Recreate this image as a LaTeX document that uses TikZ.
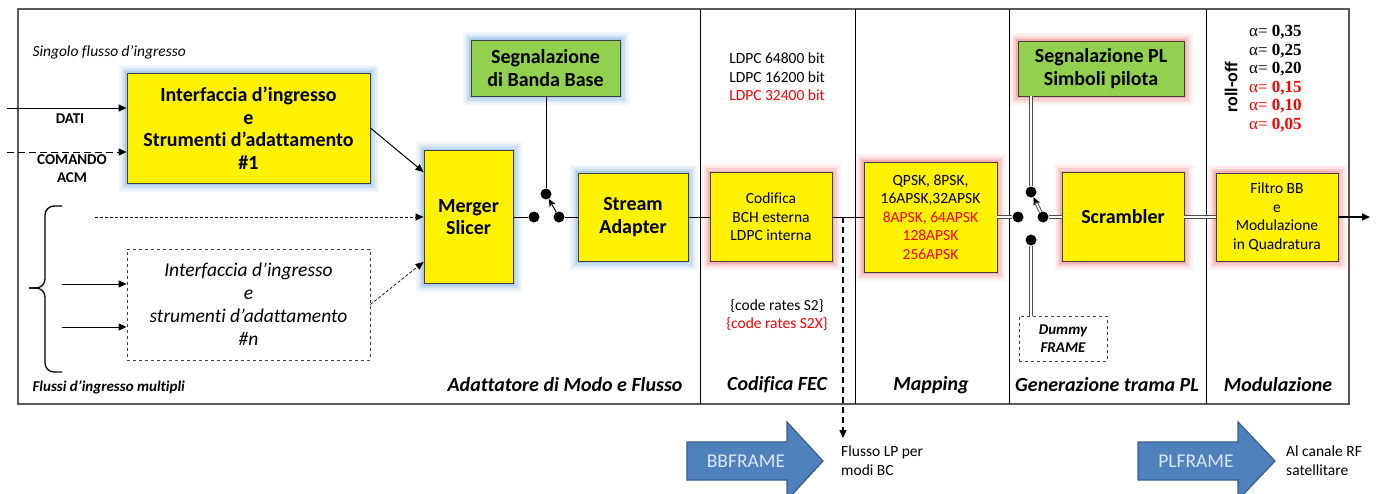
\documentclass[tikz,border=0pt]{standalone}
\usepackage{fontspec}
\setmainfont{Carlito}[Ligatures={TeX,NoCommon}]
\newfontfamily\alphafont{Liberation Serif}
\usetikzlibrary{arrows.meta, positioning, calc}

\definecolor{sigreen}{HTML}{92D050}
\definecolor{glowblue}{HTML}{9DC3E6}
\definecolor{glowred}{HTML}{F29B9B}
\definecolor{fatblue}{HTML}{4F81BD}
\definecolor{fatline}{HTML}{385D8A}
\definecolor{fattext}{HTML}{DCE6F2}
\definecolor{framegray}{HTML}{5A5A5A}

\begin{document}
\begin{tikzpicture}[x=1pt, y=-1pt,
    blk/.style={rectangle, draw=black!75, line width=0.9pt, fill=yellow, align=center, inner sep=1pt},
    sig/.style={blk, fill=sigreen},
    big/.style={font=\fontsize{20}{22.5}\selectfont\bfseries},
    small/.style={font=\fontsize{15.5}{18.6}\selectfont},
    glowb/.style={preaction={draw=glowblue!15, line width=17pt},
      preaction={draw=glowblue!30, line width=13pt}, preaction={draw=glowblue!55, line width=9pt},
      preaction={draw=glowblue!85, line width=4pt}},
    glowr/.style={preaction={draw=glowred!12, line width=17pt},
      preaction={draw=glowred!25, line width=13pt}, preaction={draw=glowred!50, line width=9pt},
      preaction={draw=glowred!80, line width=4pt}},
    dashbox/.style={rectangle, draw=black!75, dashed, line width=0.8pt, align=center, inner sep=1pt},
    sect/.style={font=\fontsize{20}{22}\selectfont\bfseries\itshape},
    lbl/.style={font=\fontsize{15}{18}\selectfont\bfseries, align=center},
    note/.style={font=\fontsize{15.5}{19}\selectfont, align=left, inner sep=0pt},
    arr/.style={-{Triangle[length=8pt, width=7pt]}, line width=1pt},
    sw/.style={circle, fill=black, inner sep=0pt, minimum size=11pt},
    dbl/.style={draw=black!70, double=white, double distance=1.5pt, line width=1pt},
    fat/.style={fill=fatblue, draw=fatline, line width=1.2pt}
  ]
    \useasboundingbox (0,0) rectangle (1377,493);
    \fill[white] (0,0) rectangle (1377,493);

    % frame and sections
    \draw[framegray, line width=1.5pt] (18,9) rectangle (1349,404);
    \foreach \x in {700,855,1009,1206}
      \draw[line width=0.8pt] (\x,9) -- (\x,404);

    \node[sect, anchor=east] (lmode) at (686,385) {Adattatore di Modo e Flusso};
    \node[sect] (lfec) at (777,385) {Codifica FEC};
    \node[sect] (lmap) at (931,385) {Mapping};
    \node[sect] (lpl) at (1107,385) {Generazione trama PL};
    \node[sect] (lmod) at (1278,385) {Modulazione};

    % input side
    \node[font=\fontsize{15.5}{18}\selectfont\itshape, anchor=west] (single) at (29,52) {Singolo flusso d’ingresso};
    \node[font=\fontsize{15}{18}\selectfont\bfseries\itshape, anchor=west] (multi) at (29,387) {Flussi d’ingresso multipli};

    \node[blk, glowb, big, minimum width=243pt, minimum height=110pt] (if1) at (248.5,128)
      {Interfaccia d’ingresso\\e\\Strumenti d’adattamento\\\#1};
    \node[dashbox, font=\fontsize{19.5}{23}\selectfont\itshape, minimum width=243pt, minimum height=111pt] (ifn) at (248.5,304.5)
      {Interfaccia d’ingresso\\e\\strumenti d’adattamento\\\#n};
    \node[blk, glowb, big, minimum width=89pt, minimum height=133pt] (merger) at (468.5,217) {Merger\\Slicer};

    \coordinate (dati) at (7,108);
    \coordinate (acm) at (7,152);
    \draw[arr] (dati) -- (dati -| if1.west);
    \draw[arr, dash pattern=on 7pt off 4pt] (acm) -- (acm -| if1.west);
    \node[lbl] (ldati) at (70,119) {DATI};
    \node[lbl] (lacm) at (72,169) {COMANDO\\ACM};

    % curly brace of the multiple streams
    \draw[line width=1.3pt, rounded corners=9pt] (62,206) -- (45,206) -- (45,288) -- (29,288);
    \draw[line width=1.3pt, rounded corners=9pt] (62,372) -- (45,372) -- (45,288) -- (29,288);
    \coordinate (in1) at (62,284);
    \coordinate (in2) at (62,327);
    \draw[arr] (in1) -- (in1 -| ifn.west);
    \draw[arr] (in2) -- (in2 -| ifn.west);

    \coordinate (bypass) at (95,217);
    \draw[arr, line width=0.7pt, dash pattern=on 3pt off 2pt] (bypass) -- (merger.west);
    \draw[arr] (if1.east) -- (merger.135);
    \draw[arr, line width=0.7pt, dash pattern=on 3pt off 2pt] (ifn.east) -- (merger.225);

    % baseband switch
    \node[sig, glowb, big, minimum width=149pt, minimum height=56pt] (sigbb) at (545.5,68) {Segnalazione\\di Banda Base};
    \node[sw] (sa) at (534,217) {};
    \node[sw] (sb) at (559,217) {};
    \node[sw] (sc) at (546,194) {};
    \node[blk, glowb, big, minimum width=110pt, minimum height=88pt] (stream) at (633,217) {Stream\\Adapter};

    \draw[line width=1pt] (merger) -- (sa);
    \draw[line width=1pt] (sigbb.south -| sc) -- (sc);
    \draw[line width=1pt, -{Stealth[length=8pt, width=7pt]}] (sb) -- (sc);
    \draw[line width=1pt] (sb) -- (stream);

    % FEC and mapping
    \node[small, align=center] (ldpc) at (777,77)
      {LDPC 64800 bit\\LDPC 16200 bit\\\textcolor{red}{LDPC 32400 bit}};
    \node[blk, glowr, small, minimum width=122pt, minimum height=89pt] (fec) at (771,217)
      {Codifica\\BCH esterna\\LDPC interna};
    \node[small, align=center] (rates) at (777,315)
      {\{code rates S2\}\\\textcolor{red}{\{code rates S2X\}}};
    \node[blk, glowr, small, minimum width=133pt, minimum height=110pt] (map) at (930.5,217)
      {QPSK, 8PSK,\\16APSK,32APSK\\\textcolor{red}{8APSK, 64APSK}\\\textcolor{red}{128APSK}\\\textcolor{red}{256APSK}};

    \draw[line width=1pt] (stream) -- (fec);
    \draw[line width=1pt] (fec) -- (map);
    \coordinate (tap) at (843,217);
    \coordinate (lpout) at (843,438);
    \draw[arr, line width=1.5pt, dash pattern=on 6pt off 4pt] (tap) -- (lpout);
    \node[note, anchor=west] (lpnote) at (841,461) {Flusso LP per\\modi BC};

    % PL framing
    \node[sig, glowr, big, minimum width=166pt, minimum height=55pt] (sigpl) at (1101,68.5) {Segnalazione PL\\Simboli pilota};
    \node[sw] (sd) at (1018,217) {};
    \node[sw] (se) at (1043,217) {};
    \node[sw] (sf) at (1031,192) {};
    \node[sw] (sg) at (1031,240) {};
    \node[blk, glowr, big, minimum width=122pt, minimum height=89pt] (scr) at (1123,217) {Scrambler};
    \node[dashbox, font=\fontsize{15}{18}\selectfont\bfseries\itshape, minimum width=88pt, minimum height=45pt] (dummy) at (1063,338.5)
      {Dummy\\FRAME};

    \draw[dbl] (map) -- (sd);
    \draw[dbl] (sf |- sigpl.south) -- (sf);
    \draw[dbl] (sg) -- (sg |- dummy.north);
    \draw[dbl, shorten >=6pt] (se) -- (sf);
    \draw[line width=0.8pt, -{Stealth[length=8pt, width=7pt]}] ($(se)!0.55!(sf)$) -- (sf);
    \draw[dbl] (se) -- (scr);

    % modulator
    \node[blk, glowr, small, minimum width=122pt, minimum height=88pt] (filt) at (1277,217)
      {Filtro BB\\e\\Modulazione\\in Quadratura};
    \node[rotate=90, font=\fontsize{18}{20}\selectfont\bfseries] (rolloff) at (1231,87) {roll-off};
    \node[anchor=north west, align=left, inner sep=0pt, font=\alphafont\fontsize{17}{18.6}\selectfont] (alphas) at (1249,25)
      {α= \textbf{0,35}\\α= \textbf{0,25}\\α= \textbf{0,20}\\
       \textcolor{red}{α= \textbf{0,15}}\\\textcolor{red}{α= \textbf{0,10}}\\\textcolor{red}{α= \textbf{0,05}}};

    \draw[dbl] (scr) -- (filt);
    \coordinate (rfout) at (1370,217);
    \draw[arr, line width=1.5pt] (filt) -- (rfout);

    % frame type arrows
    \draw[fat] (687,442) -- (787,442) -- (787,422) -- (823,461) -- (787,500) -- (787,480) -- (687,480) -- cycle;
    \node[font=\fontsize{19.5}{22}\selectfont, text=fattext] (bbf) at (746,461) {BBFRAME};
    \draw[fat] (1138,442) -- (1238,442) -- (1238,422) -- (1275,461) -- (1238,500) -- (1238,480) -- (1138,480) -- cycle;
    \node[font=\fontsize{19.5}{22}\selectfont, text=fattext] (plf) at (1196,461) {PLFRAME};
    \node[note, anchor=west] (rfnote) at (1286,461) {Al canale RF\\satellitare};
  \end{tikzpicture}
\end{document}
